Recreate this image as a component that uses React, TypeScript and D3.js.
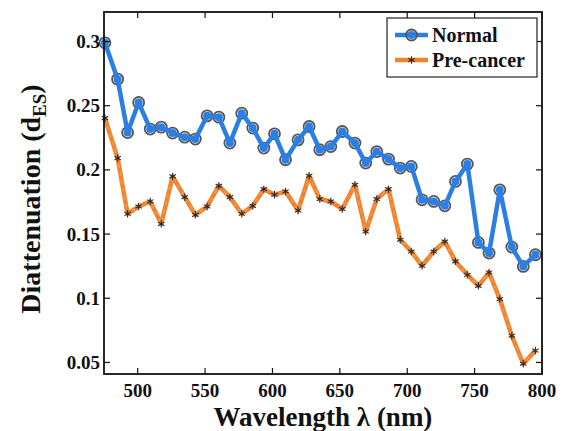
import React from "react";
import * as d3 from "d3";

// wavelength samples (nm)
const wavelengths = [
  475.7, 485.1, 492.5, 500.7, 509.3, 517.5, 525.9, 534.9, 542.8, 551.5,
  560.2, 568.4, 577.2, 585.4, 593.6, 601.5, 609.7, 619.0, 627.2, 635.1,
  643.3, 651.8, 661.2, 669.2, 677.4, 686.1, 694.8, 703.0, 711.0, 719.7,
  727.9, 735.8, 744.6, 752.8, 760.7, 768.7, 777.6, 786.1, 795.1,
];

const normal = [
  0.299, 0.2707, 0.2291, 0.2525, 0.2318, 0.2333, 0.2287, 0.2255, 0.224, 0.2421,
  0.2411, 0.2209, 0.2442, 0.2326, 0.217, 0.2281, 0.2079, 0.2234, 0.2338, 0.2157,
  0.2182, 0.2299, 0.2209, 0.2053, 0.2143, 0.2084, 0.2014, 0.2027, 0.1767, 0.1754,
  0.172, 0.191, 0.2045, 0.1435, 0.1352, 0.1845, 0.1399, 0.1248, 0.1339,
];

const preCancer = [
  0.2403, 0.2092, 0.1658, 0.1715, 0.1754, 0.158, 0.1949, 0.1788, 0.165, 0.1715,
  0.1876, 0.1788, 0.1658, 0.172, 0.185, 0.1806, 0.1832, 0.1684, 0.1954, 0.1773,
  0.1754, 0.1695, 0.1884, 0.152, 0.1773, 0.185, 0.1456, 0.1364, 0.1253, 0.1364,
  0.1442, 0.1287, 0.1183, 0.1097, 0.1201, 0.0994, 0.0708, 0.049, 0.0593,
];

const xTicks = [500, 550, 600, 650, 700, 750, 800];
const yTicks = [0.05, 0.1, 0.15, 0.2, 0.25, 0.3];

const BLUE = "#2b7fe3";
const ORANGE = "#f0832c";
const FONT = '"Liberation Serif", "DejaVu Serif", "Times New Roman", serif';
const txt = { fontFamily: FONT, fontWeight: "bold" as const };

export default function App() {
  const left = 104, right = 542, top = 12, bottom = 374;
  const x = d3.scaleLinear().domain([475, 800]).range([left, right]);
  const y = d3.scaleLinear().domain([0.041, 0.323]).range([bottom, top]);
  const fmt = d3.format("");

  const line = d3.line<number>()
    .x((_, i) => x(wavelengths[i]))
    .y(d => y(d));

  const star = d3.symbol().type(d3.symbolAsterisk).size(38)();
  const tk = 6;

  return (
    <svg width={568} height={431} style={{ position: "absolute", left: 0, top: 0, background: "#fff" }}>
      {/* pre-cancer series */}
      <path d={line(preCancer) || ""} fill="none" stroke={ORANGE} strokeWidth={4.5} strokeLinejoin="round" />
      <path d={line(preCancer) || ""} fill="none" stroke="#f5a461" strokeWidth={1.5} strokeDasharray="4,4" opacity={0.7} />
      {preCancer.map((d, i) => (
        <path key={"s" + i} d={star} transform={`translate(${x(wavelengths[i])},${y(d)})`}
          fill="none" stroke="#2a2a2a" strokeWidth={1.1} />
      ))}

      {/* normal series */}
      {normal.map((d, i) => (
        <circle key={"o" + i} cx={x(wavelengths[i])} cy={y(d)} r={5.5} fill="none" stroke="#555" strokeWidth={1.8} />
      ))}
      <path d={line(normal) || ""} fill="none" stroke={BLUE} strokeWidth={4.5} strokeLinejoin="round" />
      {normal.map((d, i) => (
        <circle key={"c" + i} cx={x(wavelengths[i])} cy={y(d)} r={4} fill={BLUE} />
      ))}

      {/* frame and ticks */}
      <rect x={left} y={top} width={right - left} height={bottom - top} fill="none" stroke="#111" strokeWidth={1.8} />
      {xTicks.map(t => (
        <g key={"x" + t}>
          <line x1={x(t)} x2={x(t)} y1={bottom} y2={bottom - tk} stroke="#111" strokeWidth={1.2} />
          <line x1={x(t)} x2={x(t)} y1={top} y2={top + tk} stroke="#111" strokeWidth={1.2} />
          <text x={x(t)} y={397} textAnchor="middle" fontSize={19} fill="#111" style={txt}>{fmt(t)}</text>
        </g>
      ))}
      {yTicks.map(t => (
        <g key={"y" + t}>
          <line x1={left} x2={left + tk} y1={y(t)} y2={y(t)} stroke="#111" strokeWidth={1.2} />
          <line x1={right} x2={right - tk} y1={y(t)} y2={y(t)} stroke="#111" strokeWidth={1.2} />
          <text x={100} y={y(t) + 6.5} textAnchor="end" fontSize={19} fill="#111" style={txt}>{fmt(t)}</text>
        </g>
      ))}

      {/* axis titles */}
      <text x={323} y={426} textAnchor="middle" fontSize={27} fill="#111" style={txt}>
        Wavelength λ (nm)
      </text>
      <text transform="translate(40,199) rotate(-90)" textAnchor="middle" fontSize={28} fill="#111" style={txt}>
        Diattenuation (d<tspan fontSize={19} dy={6}>ES</tspan><tspan dy={-6}>)</tspan>
      </text>

      {/* legend */}
      <rect x={387} y={18} width={150} height={59} fill="#fff" stroke="#222" strokeWidth={1.2} />
      <line x1={395} x2={428} y1={35} y2={35} stroke={BLUE} strokeWidth={4.5} />
      <circle cx={411.5} cy={35} r={5.5} fill="none" stroke="#555" strokeWidth={1.8} />
      <circle cx={411.5} cy={35} r={4} fill={BLUE} />
      <text x={432} y={42} fontSize={20} fill="#111" style={txt}>Normal</text>
      <line x1={395} x2={428} y1={60} y2={60} stroke={ORANGE} strokeWidth={4.5} />
      <path d={star} transform="translate(411.5,60)" fill="none" stroke="#2a2a2a" strokeWidth={1.1} />
      <text x={432} y={67} fontSize={20} fill="#111" style={txt}>Pre-cancer</text>
    </svg>
  );
}
